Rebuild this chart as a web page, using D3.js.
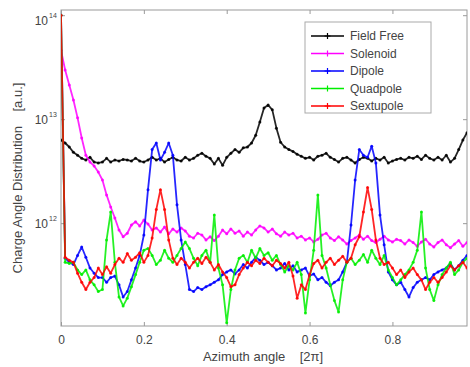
<!DOCTYPE html>
<html><head><meta charset="utf-8">
<script src="https://cdn.jsdelivr.net/npm/d3@7"></script>
<style>body{margin:0;background:#fff;}svg{display:block;font-family:"Liberation Sans",Arial,sans-serif;}</style>
</head><body>
<svg id="chart" width="470" height="367"></svg>
<script>
// Data (values in units of 1e12 a.u.)
const UNIT = 1e12;
const azimuth = d3.range(99).map(i => +(i * 0.01).toFixed(2));
const seriesNames = ["Field Free", "Solenoid", "Dipole", "Quadpole", "Sextupole"];
const seriesColors = ["#000000", "#ff00ff", "#0000ff", "#00ee00", "#ff0000"];
const xTicks = [0, 0.2, 0.4, 0.6, 0.8];
const yTickExponents = [12, 13, 14];

const fieldFree = [6.3,5.9,5.4,4.8,4.5,4.2,4.05,4.3,3.87,3.79,
  3.87,4.2,3.87,4.05,3.96,4.1,4.05,3.96,4.2,3.96,
  3.87,4.05,4.3,4.05,4.2,3.87,4.1,4.3,4.05,3.96,
  4.3,4.05,4.2,4.5,4.7,4.4,4.2,3.7,4.2,3.6,
  4.3,4.7,5.1,4.8,5.3,5.4,5.9,7.0,9.4,12.8,
  13.7,12.3,8.2,6.0,5.4,5.1,4.9,4.6,4.4,4.2,
  4.3,4.05,4.4,4.5,4.7,4.3,4.1,3.87,4.2,4.3,
  4.05,3.79,4.1,4.3,4.2,3.96,4.2,4.05,4.3,3.79,
  3.96,4.1,4.2,4.05,4.3,4.2,4.4,4.1,4.5,4.2,
  4.05,4.3,4.05,4.5,3.87,4.2,5.1,6.3,7.4];
const solenoid = [46,29.7,21.3,15.3,10.3,6.6,4.5,3.87,3.55,3.1,
  2.6,1.87,1.43,1.12,0.86,0.74,0.8,0.96,1.03,0.94,
  1.07,0.98,0.86,0.9,0.82,0.92,0.79,0.88,0.82,0.9,
  0.84,0.75,0.72,0.8,0.77,0.69,0.74,0.68,0.75,0.86,
  0.79,0.88,0.8,0.84,0.75,0.82,0.77,0.86,0.94,0.9,
  0.82,0.88,0.79,0.75,0.82,0.77,0.8,0.72,0.75,0.69,
  0.72,0.66,0.7,0.77,0.8,0.72,0.68,0.74,0.69,0.63,
  0.68,0.72,0.77,0.7,0.75,0.68,0.65,0.7,0.75,0.69,
  0.66,0.7,0.68,0.63,0.69,0.65,0.6,0.66,0.7,0.63,
  0.59,0.65,0.69,0.62,0.58,0.63,0.68,0.6,0.65];
const dipole = [100,0.46,0.42,0.40,0.49,0.59,0.47,0.37,0.33,0.30,
  0.30,0.27,0.30,0.31,0.255,0.195,0.22,0.285,0.37,0.49,
  0.77,2.1,5.1,5.9,4.05,4.8,5.9,4.5,1.5,0.69,
  0.40,0.23,0.22,0.24,0.23,0.245,0.255,0.27,0.285,0.32,
  0.34,0.355,0.325,0.355,0.40,0.37,0.42,0.47,0.44,0.40,
  0.42,0.39,0.355,0.37,0.41,0.355,0.39,0.34,0.355,0.37,
  0.31,0.325,0.285,0.30,0.27,0.25,0.27,0.285,0.34,0.42,
  0.96,2.6,5.1,4.5,4.3,5.5,3.8,1.2,0.62,0.34,
  0.285,0.255,0.27,0.23,0.195,0.24,0.27,0.285,0.30,0.285,
  0.32,0.34,0.355,0.37,0.41,0.355,0.39,0.44,0.49];
const quadpole = [100,0.42,0.41,0.42,0.355,0.32,0.355,0.285,0.255,0.22,
  0.23,0.69,1.28,0.42,0.195,0.16,0.19,0.245,0.32,0.42,
  0.55,0.57,0.49,0.40,0.44,0.55,0.46,0.42,0.49,0.57,
  0.66,0.57,0.46,0.39,0.49,0.55,0.42,1.2,0.37,0.255,
  0.11,0.23,0.355,0.46,0.49,0.42,0.55,0.46,0.57,0.49,
  0.52,0.44,0.49,0.40,0.34,0.39,0.355,0.42,0.32,0.137,
  0.285,0.55,1.87,0.49,0.37,0.255,0.18,0.14,0.285,0.42,
  0.46,0.40,0.44,0.50,0.42,0.55,0.46,0.40,0.49,0.355,
  0.30,0.255,0.285,0.32,0.355,0.42,0.55,1.28,0.37,0.23,
  0.18,0.255,0.32,0.37,0.42,0.32,0.355,0.42,0.46];
const sextupole = [100,0.47,0.44,0.42,0.33,0.27,0.23,0.27,0.30,0.37,
  0.32,0.38,0.33,0.40,0.46,0.42,0.51,0.44,0.47,0.52,
  0.42,0.49,0.72,1.35,2.1,1.35,0.69,0.46,0.40,0.46,
  0.42,0.37,0.42,0.46,0.41,0.47,0.42,0.355,0.40,0.34,
  0.30,0.245,0.255,0.32,0.37,0.42,0.39,0.44,0.41,0.46,
  0.42,0.39,0.44,0.41,0.37,0.42,0.31,0.19,0.255,0.23,
  0.32,0.41,0.44,0.37,0.42,0.46,0.40,0.44,0.48,0.42,
  0.46,0.62,0.74,1.28,2.2,1.35,0.69,0.46,0.40,0.42,
  0.37,0.32,0.355,0.30,0.34,0.37,0.32,0.285,0.23,0.27,
  0.30,0.27,0.30,0.34,0.39,0.355,0.39,0.42,0.37];
const seriesValues = [fieldFree, solenoid, dipole, quadpole, sextupole];

// Layout
const plot = {left: 61, top: 10, right: 467, bottom: 326};
const svg = d3.select("#chart");

const x = d3.scaleLinear().domain([0, 0.98]).range([plot.left, plot.right]);
const y = d3.scaleLog().domain([Math.pow(10, 11.011), Math.pow(10, 14.05)]).range([plot.bottom, plot.top]);

const axisColor = "#9a9a9a";
const textColor = "#444";

svg.append("rect").attr("x", plot.left).attr("y", plot.top)
  .attr("width", plot.right - plot.left).attr("height", plot.bottom - plot.top)
  .attr("fill", "none").attr("stroke", axisColor).attr("stroke-width", 1);

const xAxis = d3.axisBottom(x).tickValues(xTicks).tickFormat(d => d === 0 ? "0" : d3.format(".1f")(d)).tickSizeInner(-4).tickSizeOuter(0).tickPadding(9);
const gx = svg.append("g").attr("transform", `translate(0,${plot.bottom})`).call(xAxis);
gx.select(".domain").remove();
gx.selectAll("line").attr("stroke", axisColor);
gx.selectAll("text").attr("fill", textColor).attr("font-size", 12);
const xTop = d3.axisTop(x).tickValues(xTicks).tickFormat("").tickSizeInner(-4).tickSizeOuter(0);
const gxt = svg.append("g").attr("transform", `translate(0,${plot.top})`).call(xTop);
gxt.select(".domain").remove();
gxt.selectAll("line").attr("stroke", axisColor);

const yTickVals = yTickExponents.map(e => Math.pow(10, e));
const yAxis = d3.axisLeft(y).tickValues(yTickVals).tickFormat("").tickSizeInner(-4).tickSizeOuter(0);
const gy = svg.append("g").attr("transform", `translate(${plot.left},0)`).call(yAxis);
gy.select(".domain").remove();
gy.selectAll("line").attr("stroke", axisColor);
const yRight = d3.axisRight(y).tickValues(yTickVals).tickFormat("").tickSizeInner(-4).tickSizeOuter(0);
const gyr = svg.append("g").attr("transform", `translate(${plot.right},0)`).call(yRight);
gyr.select(".domain").remove();
gyr.selectAll("line").attr("stroke", axisColor);

yTickExponents.forEach(e => {
  const ty = y(Math.pow(10, e));
  svg.append("text").attr("x", 48).attr("y", ty + 5 + (e === 14 ? 5 : 0))
    .attr("text-anchor", "end").attr("fill", textColor).attr("font-size", 12).text("10");
  svg.append("text").attr("x", 49).attr("y", ty - 2 + (e === 14 ? 5 : 0))
    .attr("fill", textColor).attr("font-size", 7).text(String(e));
});

svg.append("clipPath").attr("id", "clip").append("rect")
  .attr("x", plot.left).attr("y", plot.top).attr("width", plot.right - plot.left).attr("height", plot.bottom - plot.top);

const line = d3.line().x((d, i) => x(azimuth[i])).y(d => y(d * UNIT));
const gData = svg.append("g").attr("clip-path", "url(#clip)");
seriesValues.forEach((vals, s) => {
  gData.append("path").datum(vals).attr("d", line)
    .attr("fill", "none").attr("stroke", seriesColors[s]).attr("stroke-width", 1.8)
    .attr("stroke-linejoin", "round").attr("opacity", 0.85);
  gData.selectAll(null).data(vals).enter().append("circle")
    .attr("cx", (d, i) => x(azimuth[i])).attr("cy", d => y(d * UNIT)).attr("r", 1.5)
    .attr("fill", seriesColors[s]).attr("opacity", 0.85);
});

const lg = svg.append("g");
lg.append("rect").attr("x", 305).attr("y", 22).attr("width", 126).attr("height", 91)
  .attr("fill", "#fff").attr("stroke", "#aaa").attr("stroke-width", 1);
seriesNames.forEach((name, i) => {
  const ly = 36 + i * 17.5;
  lg.append("line").attr("x1", 311).attr("x2", 344).attr("y1", ly).attr("y2", ly)
    .attr("stroke", seriesColors[i]).attr("stroke-width", 1.5);
  lg.append("path").attr("d", `M${327.5},${ly - 3}V${ly + 3}M${324.5},${ly}H${330.5}`)
    .attr("stroke", seriesColors[i]).attr("stroke-width", 1.2);
  lg.append("text").attr("x", 350).attr("y", ly + 4).attr("font-size", 12)
    .attr("fill", textColor).text(name);
});

svg.append("text").attr("x", 263).attr("y", 361).attr("text-anchor", "middle")
  .attr("font-size", 13).attr("fill", textColor).attr("xml:space", "preserve")
  .text("Azimuth angle    [2π]");
svg.append("text").attr("transform", "translate(22,178) rotate(-90)").attr("text-anchor", "middle")
  .attr("font-size", 13).attr("fill", textColor).attr("xml:space", "preserve")
  .text("Charge Angle Distribution    [a.u.]");
</script>
</body></html>
